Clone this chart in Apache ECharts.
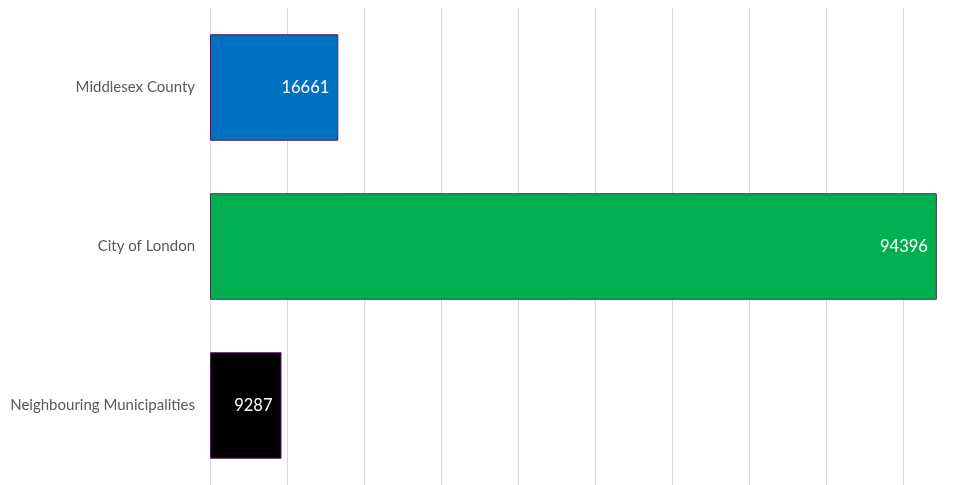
<!DOCTYPE html>
<html><head><meta charset="utf-8">
<script src="https://cdn.jsdelivr.net/npm/echarts@6/dist/echarts.min.js"></script>
<style>html,body{margin:0;padding:0;background:#fff}#c{width:967px;height:485px}</style>
</head><body><div id="c"></div>
<script>
const categories = ['Middlesex County', 'City of London', 'Neighbouring Municipalities'];
const values = [16661, 94396, 9287];
const barColors = ['#0070c0', '#00b050', '#000000'];
const borderColors = ['#4b1c5e', '#3a3a4a', '#5a1a5e'];

const chart = echarts.init(document.getElementById('c'));
chart.setOption({
  animation: false,
  grid: { left: 210, top: 8, width: 770, bottom: 0, containLabel: false, outerBoundsMode: 'none' },
  xAxis: {
    type: 'value', min: 0, max: 100000, interval: 10000,
    axisLabel: { show: false }, axisLine: { show: false }, axisTick: { show: false },
    splitLine: { show: true, lineStyle: { color: '#d9d9d9', width: 1 } }
  },
  yAxis: {
    type: 'category', data: categories, inverse: true,
    axisLine: { show: false }, axisTick: { show: false },
    axisLabel: { color: '#595959', fontSize: 15, fontFamily: 'Lato, "Open Sans", sans-serif', margin: 15 }
  },
  series: [{
    type: 'bar',
    barCategoryGap: '33%',
    data: values.map((v, i) => ({
      value: v,
      itemStyle: { color: barColors[i], borderColor: borderColors[i], borderWidth: 1 }
    })),
    label: {
      show: true, position: 'insideRight', distance: 9,
      color: '#ffffff', fontSize: 16.5, fontFamily: 'Lato, "Open Sans", sans-serif'
    }
  }]
});
</script></body></html>
